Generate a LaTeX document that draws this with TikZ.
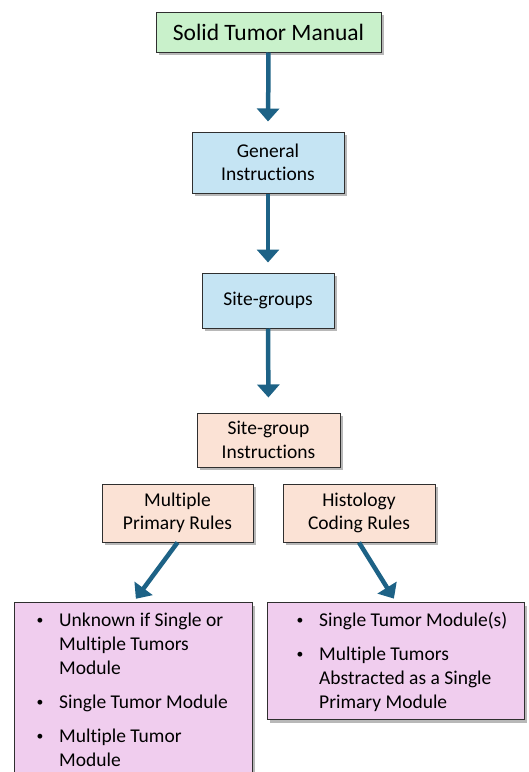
\documentclass[tikz,border=0pt]{standalone}
\usepackage{fontspec}
\setmainfont{Carlito}[Ligatures={NoCommon}]
\usetikzlibrary{arrows.meta,shadows}
\definecolor{boxgreen}{HTML}{C9F1CB}
\definecolor{boxblue}{HTML}{C5E4F3}
\definecolor{boxpeach}{HTML}{FBE2D5}
\definecolor{boxpink}{HTML}{F0CDEE}
\definecolor{arrowblue}{HTML}{1D6286}
\definecolor{edgegray}{HTML}{2F2F2F}
\tikzset{
  box/.style={draw=edgegray, line width=1pt, inner sep=0pt, align=center,
    font=\fontsize{19.5}{23.5}\selectfont,
    drop shadow={shadow xshift=2.5pt, shadow yshift=-3pt, fill=black, opacity=0.28}},
  flowarrow/.style={draw=arrowblue, line width=4.5pt,
    -{Triangle[width=22pt,length=13pt]}},
  bullettext/.style={inner sep=0pt, anchor=north west, align=left,
    font=\fontsize{19.5}{24}\selectfont}
}
\newcommand{\bl}{\makebox[24pt][l]{\hspace{1.5pt}\raisebox{1.5pt}{\scalebox{0.7}{\textbullet}}}}
\begin{document}
\begin{tikzpicture}[x=1pt,y=-1pt]
\useasboundingbox (0,0) rectangle (529,772);
\clip (0,0) rectangle (529,772);

\node[box, fill=boxgreen, minimum width=225pt, minimum height=40pt,
  font=\fontsize{23.5}{28}\selectfont] (stm) at (268.5,32) {Solid Tumor Manual};
\node[box, fill=boxblue, minimum width=152pt, minimum height=61pt] (gi) at (268,162.5) {General\\Instructions};
\node[box, fill=boxblue, minimum width=132pt, minimum height=55pt] (sg) at (268,300.5) {Site-groups};
\node[box, fill=boxpeach, minimum width=143pt, minimum height=54pt] (sgi) at (268.5,440) {Site-group\\Instructions};
\node[box, fill=boxpeach, minimum width=151pt, minimum height=58pt] (mpr) at (177.5,513) {Multiple\\Primary Rules};
\node[box, fill=boxpeach, minimum width=152pt, minimum height=58pt] (hcr) at (359,513) {Histology\\Coding Rules};

\node[box, fill=boxpink, anchor=north west, minimum width=238pt, minimum height=200pt] (lb) at (14,602) {};
\node[box, fill=boxpink, anchor=north west, minimum width=257pt, minimum height=117pt] (rb) at (267,602) {};

\node[bullettext] (lbt) at (35,609.2) {%
\begin{tabular}{@{}l@{}l@{}}
\bl & Unknown if Single or\\
 & Multiple Tumors\\
 & Module\\[10pt]
\bl & Single Tumor Module\\[10pt]
\bl & Multiple Tumor\\
 & Module
\end{tabular}};
\node[bullettext] (rbt) at (295,609.2) {%
\begin{tabular}{@{}l@{}l@{}}
\bl & Single Tumor Module(s)\\[10pt]
\bl & Multiple Tumors\\
 & Abstracted as a Single\\
 & Primary Module
\end{tabular}};

\draw[flowarrow, shorten >=10pt] (stm.south) -- (gi.north);
\draw[flowarrow, shorten >=10pt] (gi.south) -- (sg.north);
\draw[flowarrow, shorten >=15pt] (sg.south) -- (sgi.north);
\draw[flowarrow, shorten >=4pt] (mpr.south) -- (lb.north);
\draw[flowarrow, shorten >=4pt] (hcr.south) -- (rb.north);
\end{tikzpicture}
\end{document}
